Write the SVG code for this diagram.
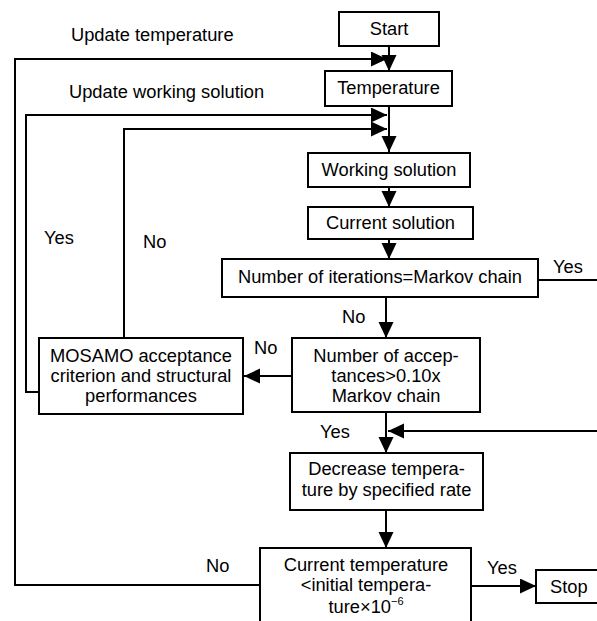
<svg xmlns="http://www.w3.org/2000/svg" width="597" height="621" viewBox="0 0 597 621">
<style>
rect.box{fill:#fff;stroke:#000;stroke-width:2}
text{font-family:"Liberation Sans",Arial,sans-serif;font-size:18.3px;fill:#000}
.c{text-anchor:middle}
.conn path{fill:none;stroke:#000;stroke-width:2}
</style>
<defs>
<marker id="ah" markerUnits="userSpaceOnUse" markerWidth="17" markerHeight="16" refX="16" refY="7.5" orient="auto">
<path d="M0,0 L16,7.5 L0,15 z" fill="#000"/>
</marker>
</defs>
<rect width="597" height="621" fill="#fff"/>
<g class="conn">
<path d="M389,46 V71" marker-end="url(#ah)"/>
<path d="M260,585 H15 V59 H387" marker-end="url(#ah)"/>
<path d="M389,106 V152" marker-end="url(#ah)"/>
<path d="M39,392 H26 V115 H387" marker-end="url(#ah)"/>
<path d="M124,338 V129 H387" marker-end="url(#ah)"/>
<path d="M389,187 V207" marker-end="url(#ah)"/>
<path d="M389,239 V259" marker-end="url(#ah)"/>
<path d="M386,297 V338" marker-end="url(#ah)"/>
<path d="M292,376 H244" marker-end="url(#ah)"/>
<path d="M386,412 V453" marker-end="url(#ah)"/>
<path d="M538,280 H605 V431 H388" marker-end="url(#ah)"/>
<path d="M386,510 V548" marker-end="url(#ah)"/>
<path d="M471,586 H536" marker-end="url(#ah)"/>
</g>
<g id="labels">
<text x="71" y="41">Update temperature</text>
<text x="69" y="98">Update working solution</text>
<text x="44" y="244">Yes</text>
<text x="143" y="248">No</text>
<text x="553" y="273">Yes</text>
<text x="342" y="323">No</text>
<text x="254" y="354">No</text>
<text x="320" y="438">Yes</text>
<text x="206" y="572">No</text>
<text x="487" y="574">Yes</text>
</g>
<g id="start"><rect class="box" x="339" y="12" width="100" height="34"/><text class="c" x="389" y="35">Start</text></g>
<g id="temperature"><rect class="box" x="325" y="71" width="127" height="35"/><text class="c" x="388.5" y="94">Temperature</text></g>
<g id="working"><rect class="box" x="308" y="153" width="162" height="34"/><text class="c" x="389" y="176">Working solution</text></g>
<g id="current"><rect class="box" x="308" y="207" width="165" height="32"/><text class="c" x="390.5" y="229">Current solution</text></g>
<g id="iterations"><rect class="box" x="222" y="259" width="316" height="38"/><text class="c" x="380" y="283">Number of iterations=Markov chain</text></g>
<g id="acceptances"><rect class="box" x="292" y="338" width="188" height="74"/>
<text class="c" x="386" y="362">Number of accep-</text>
<text class="c" x="386" y="382">tances&gt;0.10x</text>
<text class="c" x="386" y="402">Markov chain</text></g>
<g id="mosamo"><rect class="box" x="39" y="338" width="204" height="76"/>
<text class="c" x="141" y="362">MOSAMO acceptance</text>
<text class="c" x="141" y="382">criterion and structural</text>
<text class="c" x="141" y="402">performances</text></g>
<g id="decrease"><rect class="box" x="290" y="453" width="193" height="57"/>
<text class="c" x="386.5" y="475">Decrease tempera-</text>
<text class="c" x="386.5" y="496">ture by specified rate</text></g>
<g id="check"><rect class="box" x="260" y="548" width="211" height="80"/>
<text class="c" x="366" y="571">Current temperature</text>
<text class="c" x="366" y="591">&lt;initial tempera-</text>
<text class="c" x="366" y="613">ture×10<tspan font-size="11" dy="-8">−6</tspan></text></g>
<g id="stop"><rect class="box" x="536" y="570" width="70" height="33"/><text x="550" y="593">Stop</text></g>
</svg>
